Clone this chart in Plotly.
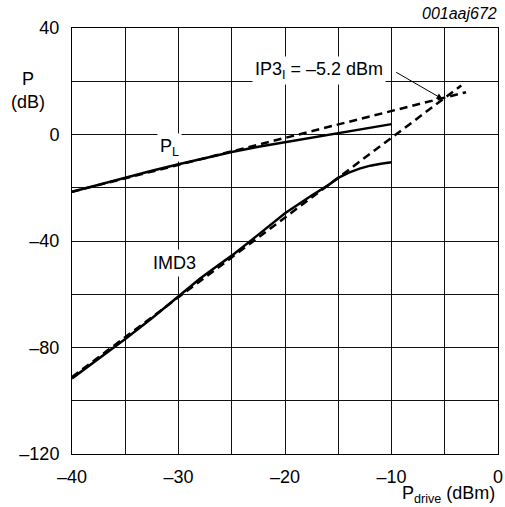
import plotly.graph_objects as go

# ---- data ----
pdrive_pl = [-40, -37.5, -35, -32.5, -30, -27.5, -25, -22.5, -20, -17.5, -15, -12.5, -10]
pl_values = [-21.5, -18.8, -16.2, -13.6, -11.2, -8.8, -6.6, -4.6, -2.9, -1.2, 0.7, 2.3, 3.9]

pdrive_imd = [-40, -37.5, -35, -32.5, -30, -28, -26.5, -25, -22.5, -20, -17.5, -16, -15, -14, -13, -12, -11, -10]
imd3_values = [-91.6, -84.2, -76.8, -69.0, -60.8, -54.2, -49.8, -45.5, -37.6, -29.6, -22.9, -19.2, -16.3, -14.3, -12.8, -11.7, -11.0, -10.4]

pl_ext_x = [-40, -3.0]
pl_ext_values = [-21.5, 15.9]
imd_ext_x = [-40, -3.45]
imd_ext_values = [-91.1, 18.4]

ip3_x = -5.2
ip3_y = 13.3

x_tickvals = [-40, -30, -20, -10, 0]
x_ticktext = ["\u201340", "\u201330", "\u201320", "\u201310", "0"]
y_tickvals = [-120, -80, -40, 0, 40]
y_ticktext = ["\u2013120", "\u201380", "\u201340", "0", "40"]

FONT = "Liberation Sans, Arial, Helvetica, sans-serif"

fig = go.Figure()
dash = "8px,5px"
fig.add_trace(go.Scatter(x=pl_ext_x, y=pl_ext_values, mode="lines",
                         line=dict(color="black", width=2.5, dash=dash), showlegend=False))
fig.add_trace(go.Scatter(x=imd_ext_x, y=imd_ext_values, mode="lines",
                         line=dict(color="black", width=2.5, dash=dash), showlegend=False))
fig.add_trace(go.Scatter(x=pdrive_pl, y=pl_values, mode="lines",
                         line=dict(color="black", width=2.5), showlegend=False))
fig.add_trace(go.Scatter(x=pdrive_imd, y=imd3_values, mode="lines",
                         line=dict(color="black", width=2.5), showlegend=False))

axis_common = dict(showline=True, mirror=True, linecolor="black", linewidth=1,
                   showgrid=True, gridcolor="#111", gridwidth=1, zeroline=False,
                   automargin=False,
                   ticks="", tickfont=dict(family=FONT, size=18, color="black"))

fig.update_xaxes(range=[-40, 0], tickvals=x_tickvals, ticktext=x_ticktext,
                 minor=dict(dtick=5, tick0=0, showgrid=True, gridcolor="#111", gridwidth=1),
                 ticklabelstandoff=6, **axis_common)
fig.update_yaxes(range=[-120, 40], tickvals=y_tickvals, ticktext=y_ticktext,
                 minor=dict(dtick=20, tick0=0, showgrid=True, gridcolor="#111", gridwidth=1),
                 ticklabelstandoff=8, **axis_common)

ann_font = dict(family=FONT, size=18, color="black")
annotations = [
    dict(x=-16.8, y=24.0, xref="x", yref="y", text="IP3<sub>I</sub> = \u20135.2 dBm",
         showarrow=False, font=ann_font, bgcolor="white", borderpad=2),
    dict(x=ip3_x, y=ip3_y, xref="x", yref="y", ax=-9.7, ay=23.7, axref="x", ayref="y",
         text="", showarrow=True, arrowhead=2, arrowsize=1.2, arrowwidth=1, arrowcolor="black"),
    dict(x=-30.8, y=-4.9, xref="x", yref="y", text="P<sub>L</sub>",
         showarrow=False, font=ann_font, bgcolor="white", borderpad=2),
    dict(x=-30.4, y=-48.1, xref="x", yref="y", text="IMD3",
         showarrow=False, font=ann_font, bgcolor="white", borderpad=3),
    dict(x=-0.103, y=0.853, xref="paper", yref="paper", text="P<br>(dB)", align="center",
         showarrow=False, font=ann_font, xanchor="center", yanchor="middle"),
    dict(x=0.998, y=-0.096, xref="paper", yref="paper", text="P<sub>drive</sub> (dBm)",
         showarrow=False, font=ann_font, xanchor="right", yanchor="middle"),
    dict(x=1.003, y=1.033, xref="paper", yref="paper", text="<i>001aaj672</i>",
         showarrow=False, font=dict(family=FONT, size=16, color="black"),
         xanchor="right", yanchor="middle"),
]

fig.update_layout(width=505, height=507, margin=dict(l=72, r=7, t=28, b=53, autoexpand=False),
                  paper_bgcolor="white", plot_bgcolor="white",
                  annotations=annotations, showlegend=False)

# remove the default 8px page margin so the figure fills the window exactly
fig.write_html("out.html", config={"displayModeBar": False},
               post_script="document.body.style.margin='0';document.body.style.overflow='hidden';")
